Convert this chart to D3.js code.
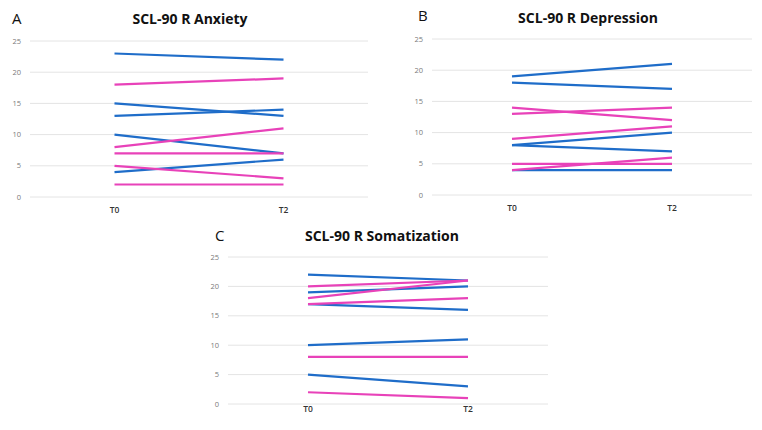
<!DOCTYPE html>
<html>
<head>
<meta charset="utf-8">
<script src="https://cdn.jsdelivr.net/npm/d3@7"></script>
<style>
  html, body { margin: 0; padding: 0; background: #fff; }
  svg { display: block; }
</style>
</head>
<body>
<svg id="chart" width="762" height="430"></svg>
<script>
const categories = ["T0", "T2"];
const yTicks = [0, 5, 10, 15, 20, 25];

const anxietyBlue = [[23, 22], [15, 13], [13, 14], [10, 7], [4, 6]];
const anxietyPink = [[18, 19], [8, 11], [7, 7], [5, 3], [2, 2]];

const depressionBlue = [[19, 21], [18, 17], [8, 10], [8, 7], [4, 4]];
const depressionPink = [[14, 12], [13, 14], [9, 11], [5, 5], [4, 6]];

const somatizationBlue = [[22, 21], [19, 20], [17, 16], [10, 11], [5, 3]];
const somatizationPink = [[20, 21], [18, 21], [17, 18], [8, 8], [2, 1]];

const titles = ["SCL-90 R Anxiety", "SCL-90 R Depression", "SCL-90 R Somatization"];
const letters = ["A", "B", "C"];

const BLUE = "#1f6dc9";
const PINK = "#e842b9";

const panels = [
  { title: titles[0], letter: letters[0], blue: anxietyBlue, pink: anxietyPink,
    x0: 30, x1: 368, yTop: 41, yBot: 197, titleX: 190, titleY: 24, letterX: 12, letterY: 24, catY: 213 },
  { title: titles[1], letter: letters[1], blue: depressionBlue, pink: depressionPink,
    x0: 432, x1: 752, yTop: 39, yBot: 195, titleX: 588, titleY: 23, letterX: 418, letterY: 21, catY: 211 },
  { title: titles[2], letter: letters[2], blue: somatizationBlue, pink: somatizationPink,
    x0: 228, x1: 548, yTop: 257, yBot: 404, titleX: 382, titleY: 241, letterX: 215, letterY: 241, catY: 412 }
];

const svg = d3.select("#chart");

panels.forEach(p => {
  const g = svg.append("g");
  const x = d3.scalePoint().domain(categories).range([p.x0, p.x1]).padding(0.5);
  const y = d3.scaleLinear().domain([0, 25]).range([p.yBot, p.yTop]);

  // gridlines
  g.append("g").selectAll("line").data(yTicks).join("line")
    .attr("x1", p.x0).attr("x2", p.x1)
    .attr("y1", d => y(d)).attr("y2", d => y(d))
    .attr("stroke", "#e4e4e4").attr("stroke-width", 1);

  // y tick labels
  g.append("g").selectAll("text").data(yTicks).join("text")
    .attr("x", p.x0 - 9).attr("y", d => y(d))
    .attr("dy", "0.35em")
    .attr("text-anchor", "end")
    .attr("font-family", "'Open Sans', sans-serif")
    .attr("font-size", 7.5)
    .attr("fill", "#7a7a7a")
    .text(d => d);

  // category labels
  g.append("g").selectAll("text").data(categories).join("text")
    .attr("x", d => x(d)).attr("y", p.catY)
    .attr("text-anchor", "middle")
    .attr("font-family", "'Open Sans', sans-serif")
    .attr("font-size", 8.5)
    .attr("font-weight", 600)
    .attr("fill", "#333")
    .text(d => d);

  const line = d3.line().x((d, i) => x(categories[i])).y(d => y(d));

  const series = [];
  p.blue.forEach(v => series.push({ v, c: BLUE }));
  p.pink.forEach(v => series.push({ v, c: PINK }));
  g.append("g").selectAll("path").data(series).join("path")
    .attr("d", d => line(d.v))
    .attr("fill", "none")
    .attr("stroke", d => d.c)
    .attr("stroke-width", 2.2);

  // title
  g.append("text")
    .attr("x", p.titleX).attr("y", p.titleY)
    .attr("text-anchor", "middle")
    .attr("font-family", "'Open Sans', sans-serif")
    .attr("font-weight", 700)
    .attr("font-size", 14)
    .attr("fill", "#111")
    .text(p.title);

  g.append("text")
    .attr("x", p.letterX).attr("y", p.letterY)
    .attr("font-family", "'Open Sans', sans-serif")
    .attr("font-size", 15)
    .attr("fill", "#111")
    .text(p.letter);
});
</script>
</body>
</html>
